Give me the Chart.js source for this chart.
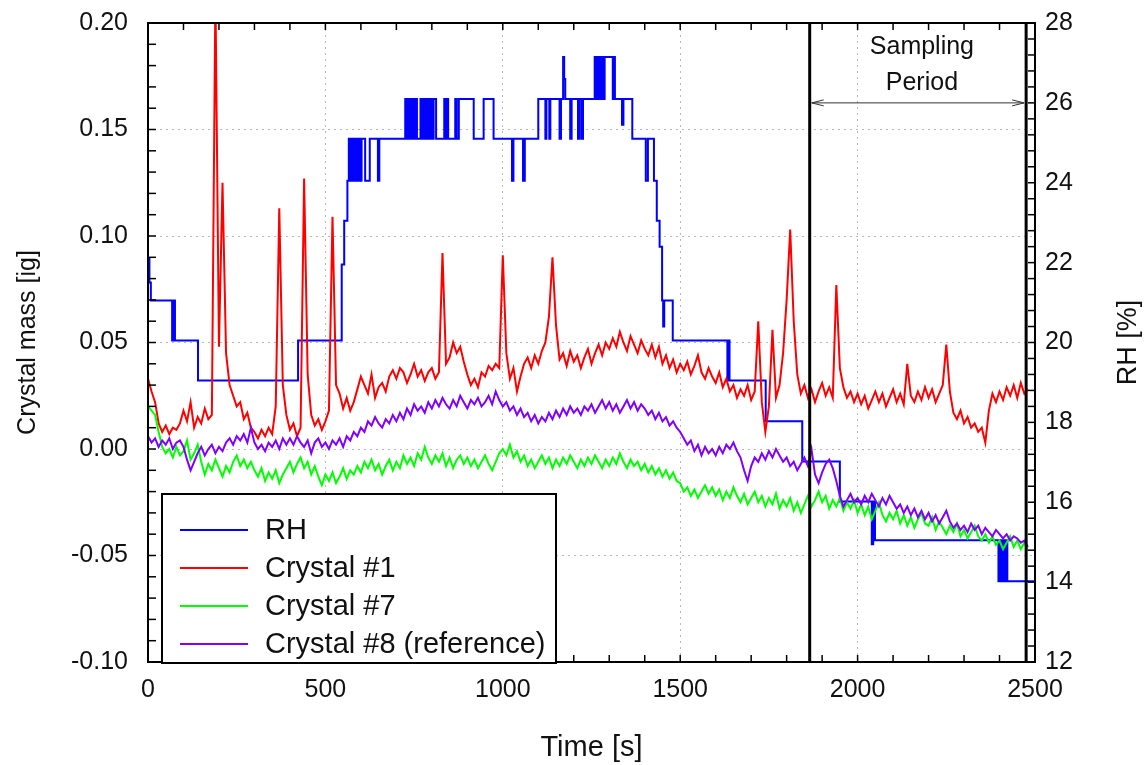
<!DOCTYPE html>
<html>
<head>
<meta charset="utf-8">
<script src="https://cdn.jsdelivr.net/npm/chart.js@4.4.0/dist/chart.umd.min.js"></script>
<style>
  html, body { margin: 0; padding: 0; background: #fff; }
  #wrap { width: 1146px; height: 765px; }
</style>
</head>
<body>
<div id="wrap"><canvas id="chart" width="1146" height="765"></canvas></div>
<script>
// Crystal balance log: mass of three crystals + RH over one run

// Balance channels are sampled every 10 s (0 .. 2480 s)
const sampleStep = 10;
const timeS = Array.from({ length: 249 }, (_, i) => i * sampleStep);

const crystal1 = [
  0.033, 0.027, 0.022, 0.012, 0.008, 0.011, 0.007, 0.010, 0.009, 0.012,
  0.018, 0.013, 0.022, 0.010, 0.015, 0.012, 0.019, 0.014, 0.016, 0.215,
  0.048, 0.125, 0.045, 0.030, 0.025, 0.020, 0.022, 0.014, 0.017, 0.010,
  0.008, 0.005, 0.009, 0.006, 0.010, 0.007, 0.020, 0.113, 0.030, 0.016,
  0.009, 0.012, 0.006, 0.010, 0.127, 0.035, 0.016, 0.011, 0.014, 0.009,
  0.013, 0.018, 0.109, 0.030, 0.026, 0.019, 0.024, 0.018, 0.022, 0.028,
  0.034, 0.030, 0.026, 0.035, 0.024, 0.029, 0.031, 0.027, 0.034, 0.037,
  0.033, 0.038, 0.036, 0.031, 0.035, 0.040, 0.034, 0.037, 0.032, 0.036,
  0.038, 0.033, 0.036, 0.092, 0.040, 0.043, 0.050, 0.045, 0.048, 0.041,
  0.035, 0.030, 0.033, 0.029, 0.036, 0.034, 0.039, 0.037, 0.040, 0.038,
  0.091, 0.045, 0.033, 0.038, 0.027, 0.034, 0.040, 0.043, 0.038, 0.044,
  0.040, 0.046, 0.050, 0.062, 0.090, 0.058, 0.042, 0.045, 0.039, 0.046,
  0.041, 0.044, 0.038, 0.043, 0.047, 0.040, 0.045, 0.049, 0.044, 0.050,
  0.047, 0.052, 0.048, 0.055, 0.050, 0.046, 0.053, 0.049, 0.045, 0.051,
  0.047, 0.044, 0.049, 0.043, 0.048, 0.040, 0.044, 0.038, 0.042, 0.036,
  0.040, 0.037, 0.041, 0.035, 0.039, 0.044, 0.036, 0.033, 0.038, 0.034,
  0.031, 0.036, 0.029, 0.033, 0.027, 0.030, 0.024, 0.028, 0.025, 0.030,
  0.023, 0.027, 0.060, 0.022, 0.008, 0.020, 0.056, 0.024, 0.030, 0.045,
  0.070, 0.103, 0.060, 0.035, 0.026, 0.030, 0.024, 0.028, 0.022, 0.027,
  0.031, 0.025, 0.029, 0.024, 0.077, 0.038, 0.029, 0.024, 0.027, 0.022,
  0.026, 0.021, 0.025, 0.019, 0.023, 0.027, 0.022, 0.026, 0.020, 0.024,
  0.028, 0.022, 0.026, 0.021, 0.040, 0.025, 0.022, 0.027, 0.023, 0.029,
  0.024, 0.028, 0.022, 0.026, 0.030, 0.049, 0.027, 0.017, 0.014, 0.018,
  0.012, 0.015, 0.010, 0.012, 0.008, 0.010, 0.003, 0.018, 0.026, 0.022,
  0.027, 0.023, 0.029, 0.025, 0.030, 0.024, 0.031, 0.026, 0.028
];

const crystal7 = [
  0.020, 0.018, 0.016, 0.008, 0.001, -0.002, 0.000, -0.004, 0.001, -0.003,
  -0.001, 0.004, -0.005, -0.002, 0.002, -0.006, -0.012, -0.007, -0.010, -0.005,
  -0.009, -0.013, -0.008, -0.011, -0.006, -0.003, -0.008, -0.005, -0.009, -0.006,
  -0.010, -0.013, -0.009, -0.015, -0.011, -0.014, -0.010, -0.016, -0.012, -0.009,
  -0.006, -0.011, -0.007, -0.004, -0.009, -0.006, -0.012, -0.008, -0.013, -0.017,
  -0.012, -0.015, -0.011, -0.016, -0.013, -0.009, -0.014, -0.010, -0.012, -0.008,
  -0.011, -0.006, -0.009, -0.005, -0.010, -0.007, -0.012, -0.008, -0.005, -0.010,
  -0.006, -0.009, -0.003, -0.007, -0.004, -0.008, -0.002, -0.005, 0.001, -0.004,
  -0.007, -0.003, -0.006, -0.002, -0.008, -0.004, -0.009, -0.005, -0.003, -0.007,
  -0.004, -0.008, -0.005, -0.009, -0.006, -0.003, -0.007, -0.010, -0.006, -0.002,
  0.000, -0.003, 0.002, -0.004, -0.001, -0.006, -0.003, -0.008, -0.005, -0.009,
  -0.006, -0.003, -0.007, -0.004, -0.009, -0.005, -0.008, -0.004, -0.007, -0.003,
  -0.006, -0.009, -0.005, -0.008, -0.004, -0.007, -0.003, -0.006, -0.009, -0.005,
  -0.008, -0.004, -0.007, -0.002, -0.006, -0.009, -0.005, -0.008, -0.006, -0.010,
  -0.007, -0.011, -0.008, -0.012, -0.009, -0.013, -0.010, -0.014, -0.011, -0.015,
  -0.016, -0.020, -0.018, -0.022, -0.019, -0.023, -0.020, -0.017, -0.021, -0.018,
  -0.022, -0.019, -0.024, -0.020, -0.023, -0.018, -0.022, -0.025, -0.021, -0.026,
  -0.023, -0.020, -0.025, -0.022, -0.027, -0.023, -0.026, -0.021, -0.028, -0.024,
  -0.027, -0.023, -0.029, -0.025, -0.030, -0.026, -0.022, -0.027, -0.024, -0.020,
  -0.025, -0.022, -0.028, -0.024, -0.027, -0.023, -0.029, -0.025, -0.028, -0.024,
  -0.030, -0.026, -0.031, -0.027, -0.033, -0.029, -0.025, -0.031, -0.034, -0.030,
  -0.033, -0.029, -0.035, -0.031, -0.036, -0.032, -0.037, -0.033, -0.030, -0.035,
  -0.036, -0.032, -0.038, -0.034, -0.037, -0.040, -0.036, -0.039, -0.035, -0.041,
  -0.038, -0.042, -0.039, -0.036, -0.041, -0.043, -0.040, -0.044, -0.041, -0.045,
  -0.043, -0.047, -0.044, -0.041, -0.046, -0.043, -0.047, -0.044, -0.048
];

const crystal8 = [
  0.006, 0.003, 0.005, 0.001, 0.004, 0.002, 0.005, 0.000, 0.003, 0.004,
  0.001, -0.005, -0.010, -0.006, -0.002, 0.001, -0.003, 0.000, 0.002, -0.002,
  0.001, -0.001, 0.003, 0.005, 0.002, 0.006, 0.004, 0.007, 0.003, 0.010,
  0.003, 0.000, 0.002, -0.001, 0.003, 0.001, 0.004, 0.000, 0.005, 0.002,
  0.005, 0.002, 0.006, 0.003, 0.001, 0.004, -0.002, 0.003, 0.005, 0.001,
  0.003, 0.000, 0.004, 0.002, 0.005, 0.001, 0.006, 0.004, 0.008, 0.006,
  0.010, 0.008, 0.013, 0.011, 0.015, 0.012, 0.010, 0.014, 0.012, 0.016,
  0.013, 0.017, 0.014, 0.019, 0.016, 0.021, 0.018, 0.020, 0.017, 0.022,
  0.019, 0.023, 0.020, 0.024, 0.021, 0.019, 0.023, 0.020, 0.025, 0.022,
  0.019, 0.023, 0.021, 0.024, 0.020, 0.022, 0.025, 0.021, 0.027, 0.023,
  0.020, 0.022, 0.018, 0.020, 0.016, 0.019, 0.015, 0.017, 0.013, 0.016,
  0.012, 0.015, 0.013, 0.017, 0.014, 0.018, 0.015, 0.019, 0.016, 0.020,
  0.017, 0.019, 0.016, 0.020, 0.018, 0.021, 0.017, 0.020, 0.023, 0.019,
  0.022, 0.018, 0.021, 0.017, 0.020, 0.023, 0.019, 0.022, 0.018, 0.021,
  0.019, 0.016, 0.018, 0.014, 0.017, 0.013, 0.015, 0.011, 0.013, 0.010,
  0.008, 0.005, 0.002, 0.004, -0.001, 0.002, -0.003, 0.001, -0.002, 0.000,
  -0.003, 0.001, -0.002, 0.002, 0.000, 0.003, -0.001, -0.004, -0.010, -0.015,
  -0.008, -0.004, -0.006, -0.002, -0.005, -0.001, -0.004, 0.000, -0.003, -0.006,
  -0.004, -0.008, -0.006, -0.010, -0.007, -0.004, -0.008, 0.000, -0.012, -0.016,
  -0.011, -0.007, -0.005, -0.009, -0.015, -0.022, -0.027, -0.024, -0.021, -0.025,
  -0.023, -0.026, -0.022, -0.025, -0.021, -0.024, -0.027, -0.023, -0.026, -0.022,
  -0.025, -0.028, -0.026, -0.030, -0.027, -0.031, -0.028, -0.032, -0.029, -0.033,
  -0.030, -0.034, -0.031, -0.035, -0.032, -0.029, -0.034, -0.037, -0.035, -0.038,
  -0.036, -0.039, -0.035, -0.038, -0.036, -0.040, -0.037, -0.039, -0.041, -0.038,
  -0.040, -0.042, -0.040, -0.043, -0.041, -0.042, -0.044, -0.043, -0.046
];

// RH logger only reports on change: time of change [s] and new level [%]
const rhTime = [
  0, 4, 8, 68, 70, 72, 74, 76, 141, 423,
  546, 553, 562, 566, 568, 571, 573, 577, 579, 583,
  585, 590, 592, 596, 598, 602, 612, 625, 648, 652,
  725, 728, 731, 735, 738, 742, 746, 750, 754, 758,
  768, 772, 776, 779, 783, 786, 790, 793, 797, 800,
  805, 812, 835, 838, 842, 846, 866, 870, 876, 918,
  946, 974, 1026, 1030, 1057, 1062, 1100, 1120, 1123, 1131,
  1134, 1160, 1164, 1170, 1173, 1176, 1190, 1194, 1212, 1216,
  1222, 1226, 1259, 1263, 1266, 1270, 1273, 1277, 1280, 1284,
  1287, 1310, 1313, 1316, 1336, 1340, 1365, 1403, 1409, 1426,
  1434, 1442, 1449, 1452, 1455, 1479, 1633, 1636, 1639, 1741,
  1844, 1950, 2040, 2044, 2049, 2397, 2400, 2405, 2409, 2413,
  2418, 2422, 2500
];
const rhValue = [
  22.1, 21.5, 21.05, 20.05, 21.05, 20.05, 21.05, 20.05, 19.05, 20.05,
  21.95, 23.05, 24.05, 25.1, 24.05, 25.1, 24.05, 25.1, 24.05, 25.1,
  24.05, 25.1, 24.05, 25.1, 24.05, 25.1, 24.05, 25.1, 24.05, 25.1,
  26.1, 25.1, 26.1, 25.1, 26.1, 25.1, 26.1, 25.1, 26.1, 25.1,
  26.1, 25.1, 26.1, 25.1, 26.1, 25.1, 26.1, 25.1, 26.1, 25.1,
  26.1, 25.1, 26.1, 25.1, 26.1, 25.1, 26.1, 25.1, 26.1, 25.1,
  26.1, 25.1, 24.05, 25.1, 24.05, 25.1, 26.1, 25.1, 26.1, 25.1,
  26.1, 25.1, 26.1, 27.15, 26.6, 26.1, 25.1, 26.1, 25.1, 26.1,
  25.1, 26.1, 27.15, 26.1, 27.15, 26.1, 27.15, 26.1, 27.15, 26.1,
  27.15, 26.1, 27.15, 26.1, 25.45, 26.1, 25.1, 24.05, 25.1, 24.05,
  23.05, 22.4, 21.05, 20.4, 21.05, 20.05, 19.05, 20.05, 19.05, 18.03,
  17.02, 16.02, 14.95, 16.02, 15.05, 14.02, 15.05, 14.02, 15.05, 14.02,
  15.05, 14.02, 14.02
];

// Axis ticks
const timeTicks = [0, 500, 1000, 1500, 2000, 2500];
const massTicks = [-0.10, -0.05, 0.00, 0.05, 0.10, 0.15, 0.20];
const rhTicks = [12, 14, 16, 18, 20, 22, 24, 26, 28];
const timeMinorStep = 100;
const massMinorStep = 0.01;
const rhMinorStep = 0.4;

// Sampling period marker
const samplingStart = 1865;
const samplingEnd = 2475;
const samplingArrowRH = 26;

const seriesLabels = ['RH', 'Crystal #1', 'Crystal #7', 'Crystal #8 (reference)'];
const colors = { rh: '#0000ff', c1: '#ff0000', c7: '#00ff00', c8: '#8000ff', ink: '#000000', grid: '#b8b8b8' };
const FONT = "'Liberation Sans', Arial, Helvetica, sans-serif";

function toXY(xs, ys) { return xs.map((x, i) => ({ x, y: ys[i] })); }

function line(ctx, x1, y1, x2, y2) {
  ctx.beginPath(); ctx.moveTo(x1, y1); ctx.lineTo(x2, y2); ctx.stroke();
}

// Frame, inward ticks, sampling markers, RH title, legend
const decorPlugin = {
  id: 'decor',
  afterDatasetsDraw(chart) {
    const { ctx, chartArea: a } = chart;
    const sx = chart.scales.x, sy = chart.scales.y, sr = chart.scales.y1;
    ctx.save();

    // sampling period lines
    ctx.strokeStyle = colors.ink; ctx.lineWidth = 3;
    const xs = sx.getPixelForValue(samplingStart), xe = sx.getPixelForValue(samplingEnd);
    line(ctx, xs, a.top, xs, a.bottom);
    line(ctx, xe, a.top, xe, a.bottom);

    // double arrow
    const ya = sr.getPixelForValue(samplingArrowRH);
    ctx.strokeStyle = '#333'; ctx.lineWidth = 1;
    line(ctx, xs + 2, ya, xe - 2, ya);
    line(ctx, xs + 2, ya, xs + 14, ya - 3); line(ctx, xs + 2, ya, xs + 14, ya + 3);
    line(ctx, xe - 2, ya, xe - 14, ya - 3); line(ctx, xe - 2, ya, xe - 14, ya + 3);

    ctx.fillStyle = '#111'; ctx.font = `25px ${FONT}`;
    ctx.textAlign = 'center'; ctx.textBaseline = 'middle';
    const xm = (xs + xe) / 2 + 4;
    ctx.fillText('Sampling', xm, sr.getPixelForValue(27.4));
    ctx.fillText('Period', xm, sr.getPixelForValue(26.5));

    // frame
    ctx.strokeStyle = colors.ink; ctx.lineWidth = 2;
    ctx.strokeRect(a.left, a.top, a.right - a.left, a.bottom - a.top);

    // inward ticks
    ctx.lineWidth = 1.5;
    for (let t = sx.min; t <= sx.max + 1e-6; t += timeMinorStep) {
      const x = sx.getPixelForValue(t);
      line(ctx, x, a.top, x, a.top + 7);
      line(ctx, x, a.bottom, x, a.bottom - 7);
    }
    for (let v = sy.min; v <= sy.max + 1e-6; v += massMinorStep) {
      const y = sy.getPixelForValue(v);
      line(ctx, a.left, y, a.left + 8, y);
    }
    for (let r = sr.min; r <= sr.max + 1e-6; r += rhMinorStep) {
      const y = sr.getPixelForValue(r);
      line(ctx, a.right, y, a.right - 7, y);
    }

    // right axis title, reading bottom to top
    ctx.save();
    ctx.translate(1129, (a.top + a.bottom) / 2);
    ctx.rotate(-Math.PI / 2);
    ctx.fillStyle = '#111'; ctx.font = `27px ${FONT}`;
    ctx.textAlign = 'center'; ctx.textBaseline = 'middle';
    ctx.fillText('RH [%]', 0, 0);
    ctx.restore();

    // legend box
    const lx = a.left + 14, lw = 394, lh = 169, ly = a.bottom + 1 - lh;
    ctx.fillStyle = '#fff';
    ctx.fillRect(lx, ly, lw, lh);
    ctx.strokeStyle = colors.ink; ctx.lineWidth = 2;
    ctx.strokeRect(lx, ly, lw, lh);
    ctx.font = `29px ${FONT}`; ctx.textAlign = 'left'; ctx.textBaseline = 'middle';
    chart.data.datasets.forEach((ds, i) => {
      const yy = ly + 36 + i * 38;
      ctx.strokeStyle = ds.borderColor; ctx.lineWidth = 2;
      line(ctx, lx + 18, yy, lx + 86, yy);
      ctx.fillStyle = '#111';
      ctx.fillText(ds.label, lx + 103, yy + 1);
    });
    ctx.restore();
  }
};

const tickFont = { family: FONT, size: 25 };

// keep the label overhang of the vertical axes out of the layout
function fixVertical(width) {
  return s => { s.width = width; s.paddingTop = 0; s.paddingBottom = 0; };
}

new Chart(document.getElementById('chart'), {
  type: 'line',
  data: {
    datasets: [
      { label: seriesLabels[0], data: toXY(rhTime, rhValue), yAxisID: 'y1', borderColor: colors.rh, stepped: true, order: 4 },
      { label: seriesLabels[1], data: toXY(timeS, crystal1), yAxisID: 'y', borderColor: colors.c1, order: 3 },
      { label: seriesLabels[2], data: toXY(timeS, crystal7), yAxisID: 'y', borderColor: colors.c7, order: 2 },
      { label: seriesLabels[3], data: toXY(timeS, crystal8), yAxisID: 'y', borderColor: colors.c8, order: 1 },
    ],
  },
  options: {
    responsive: false,
    animation: false,
    events: [],
    elements: { point: { radius: 0 }, line: { borderWidth: 2, tension: 0, fill: false } },
    layout: { padding: { top: 23, left: 0, right: 0, bottom: 0 } },
    plugins: { legend: { display: false }, tooltip: { enabled: false } },
    scales: {
      x: {
        type: 'linear', position: 'bottom', min: 0, max: 2500,
        afterBuildTicks: s => { s.ticks = timeTicks.map(v => ({ value: v })); },
        afterFit: s => { s.height = 103; s.paddingLeft = 0; s.paddingRight = 0; },
        ticks: { font: tickFont, color: '#111', padding: 13, maxRotation: 0, callback: v => String(v) },
        grid: { color: colors.grid, lineWidth: 1, drawTicks: false },
        border: { display: false, dash: [2, 4] },
        title: { display: true, text: 'Time [s]', font: { family: FONT, size: 29 }, color: '#111', padding: { top: 1, bottom: 0 } },
      },
      y: {
        type: 'linear', position: 'left', min: -0.10, max: 0.20,
        afterBuildTicks: s => { s.ticks = massTicks.map(v => ({ value: v })); },
        afterFit: fixVertical(148),
        ticks: { font: tickFont, color: '#111', padding: 20, callback: v => v.toFixed(2) },
        grid: { color: colors.grid, lineWidth: 1, drawTicks: false },
        border: { display: false, dash: [2, 4] },
        title: { display: true, text: 'Crystal mass [ig]', font: { family: FONT, size: 25 }, color: '#111', padding: { top: 13, bottom: 0 } },
      },
      y1: {
        type: 'linear', position: 'right', min: 12, max: 28,
        afterBuildTicks: s => { s.ticks = rhTicks.map(v => ({ value: v })); },
        afterFit: fixVertical(111),
        ticks: { font: tickFont, color: '#111', padding: 10, callback: v => String(v) },
        grid: { display: false, drawTicks: false },
        border: { display: false },
      },
    },
  },
  plugins: [decorPlugin],
});
</script>
</body>
</html>
